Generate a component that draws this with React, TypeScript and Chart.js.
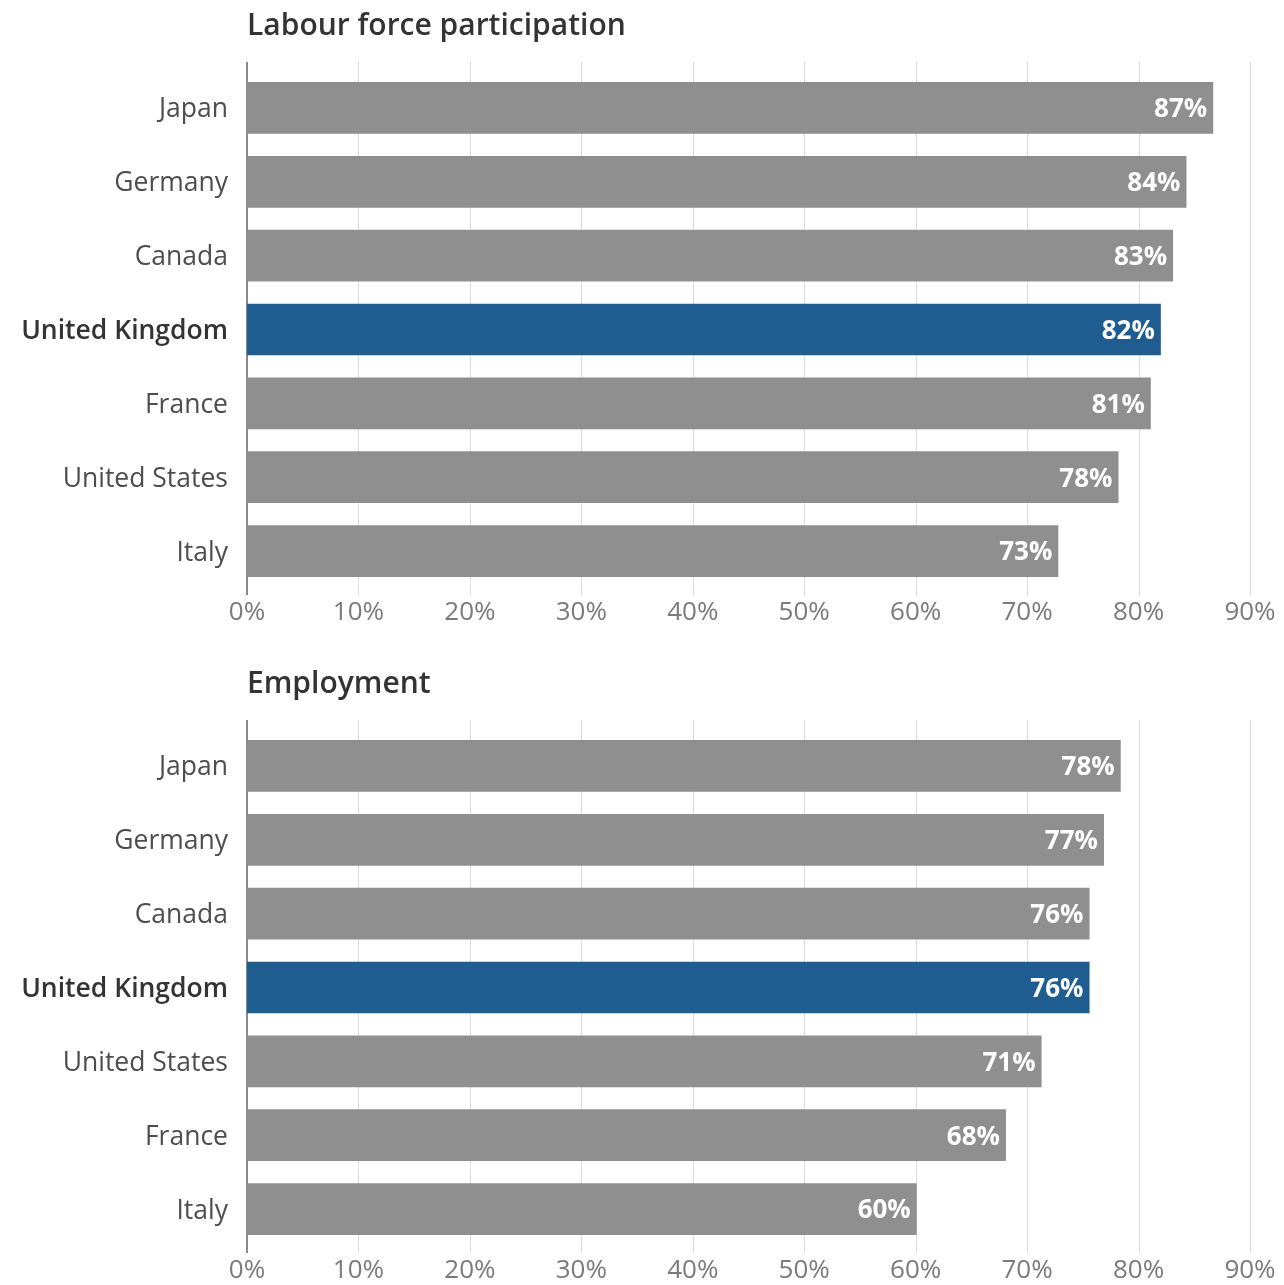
import React, { useEffect, useRef } from "react";
import { Chart, registerables } from "chart.js";

Chart.register(...registerables);

// ---- data ----
const lfpTitle = "Labour force participation";
const lfpCountries = ["Japan", "Germany", "Canada", "United Kingdom", "France", "United States", "Italy"];
const lfpValues = [86.7, 84.3, 83.1, 82.0, 81.1, 78.2, 72.8];

const empTitle = "Employment";
const empCountries = ["Japan", "Germany", "Canada", "United Kingdom", "United States", "France", "Italy"];
const empValues = [78.4, 76.9, 75.6, 75.6, 71.3, 68.1, 60.1];

const highlightCountry = "United Kingdom";
const xMin = 0;
const xMax = 90;
const xStep = 10;

// ---- styles ----
const FONT = "'Open Sans', 'Noto Sans', sans-serif";
const GREY_BAR = "#8f8f8f";
const BLUE_BAR = "#1f5c8f";
const GRID = "#dadada";
const AXIS = "#8a8a8a";

const gridPlugin = {
  id: "gridExtend",
  beforeDatasetsDraw(chart: any) {
    const { ctx, chartArea, scales } = chart;
    const x = scales.x;
    ctx.save();
    x.ticks.forEach((t: any) => {
      const isZero = t.value === 0;
      const px = Math.round(x.getPixelForValue(t.value)) + (isZero ? 0 : 0.5);
      ctx.strokeStyle = isZero ? AXIS : GRID;
      ctx.lineWidth = isZero ? 2 : 1;
      ctx.beginPath();
      ctx.moveTo(px, chartArea.top - 9);
      ctx.lineTo(px, chartArea.bottom + 7);
      ctx.stroke();
    });
    ctx.restore();
  },
};

const labelPlugin = {
  id: "valueLabels",
  afterDatasetsDraw(chart: any) {
    const { ctx } = chart;
    const meta = chart.getDatasetMeta(0);
    const data = chart.data.datasets[0].data as number[];
    ctx.save();
    ctx.font = `bold 26px ${FONT}`;
    ctx.fillStyle = "#ffffff";
    ctx.textAlign = "right";
    ctx.textBaseline = "middle";
    meta.data.forEach((bar: any, i: number) => {
      ctx.fillText(Math.round(data[i]) + "%", bar.x - 6, bar.y + 2);
    });
    ctx.restore();
  },
};

function Panel({ top, title, categories, values }: { top: number; title: string; categories: string[]; values: number[] }) {
  const ref = useRef<HTMLCanvasElement>(null);
  useEffect(() => {
    if (!ref.current) return;
    const chart = new Chart(ref.current, {
      type: "bar",
      data: {
        labels: categories,
        datasets: [
          {
            data: values,
            backgroundColor: categories.map((c) => (c === highlightCountry ? BLUE_BAR : GREY_BAR)),
            barPercentage: 0.7,
            categoryPercentage: 1,
            borderWidth: 0,
          },
        ],
      },
      options: {
        indexAxis: "y",
        responsive: false,
        animation: false,
        devicePixelRatio: 1,
        layout: { padding: { top: 71, right: 34, bottom: 0, left: 0 } },
        plugins: { legend: { display: false }, tooltip: { enabled: false }, title: { display: false } },
        scales: {
          x: {
            min: xMin,
            max: xMax,
            ticks: {
              stepSize: xStep,
              callback: (v: any) => v + "%",
              color: "#7a7a7a",
              font: { family: FONT, size: 26 },
              padding: 9,
              maxRotation: 0,
            },
            grid: { display: false, drawTicks: false },
            border: { display: false },
            afterFit: (s: any) => {
              s.height = 38;
              s.paddingLeft = 0;
              s.paddingRight = 0;
            },
          },
          y: {
            ticks: {
              padding: 19,
              labelOffset: 2,
              color: (c: any) => (categories[c.index] === highlightCountry ? "#333333" : "#4d4d4d"),
              font: (c: any) => ({
                family: FONT,
                size: 26.5,
                weight: categories[c.index] === highlightCountry ? "600" : "normal",
              }),
            },
            grid: { display: false, drawTicks: false },
            border: { display: false },
            afterFit: (s: any) => {
              s.width = 247;
            },
          },
        },
      },
      plugins: [gridPlugin, labelPlugin],
    } as any);
    return () => chart.destroy();
  }, [categories, values]);

  return (
    <div style={{ position: "absolute", left: 0, top, width: 1284, height: 626 }}>
      <canvas ref={ref} width={1284} height={626} style={{ position: "absolute", left: 0, top: 0, width: 1284, height: 626 }} />
      <div
        style={{
          position: "absolute",
          left: 247,
          top: 4,
          fontFamily: FONT,
          fontSize: 30,
          fontWeight: 600,
          lineHeight: "40px",
          color: "#333333",
          whiteSpace: "nowrap",
        }}
      >
        {title}
      </div>
    </div>
  );
}

export default function App() {
  return (
    <div style={{ position: "absolute", left: 0, top: 0, width: 1284, height: 1285, overflow: "hidden", background: "#ffffff" }}>
      <Panel top={0} title={lfpTitle} categories={lfpCountries} values={lfpValues} />
      <Panel top={658} title={empTitle} categories={empCountries} values={empValues} />
    </div>
  );
}
